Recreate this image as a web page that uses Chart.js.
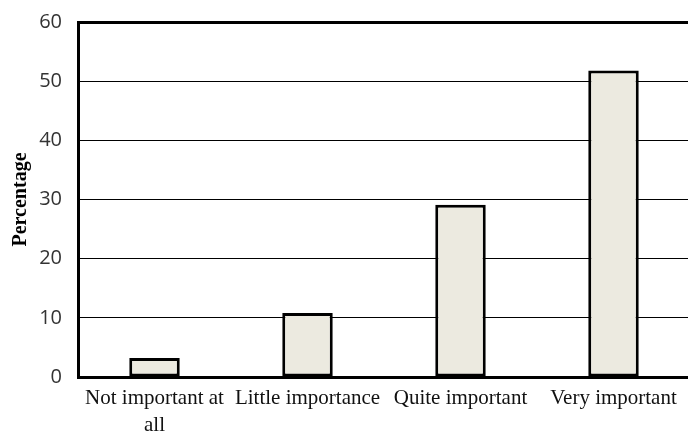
<!DOCTYPE html>
<html>
<head>
<meta charset="utf-8">
<script src="https://cdn.jsdelivr.net/npm/chart.js@4.4.0/dist/chart.umd.min.js"></script>
<style>
html,body{margin:0;padding:0;background:#fff;overflow:hidden;width:688px;height:432px;}
#wrap{position:relative;width:690px;height:438px;margin-top:-6px;}
</style>
</head>
<body>
<div id="wrap"><canvas id="c"></canvas></div>
<script>
const categories = [['Not important at', 'all'], 'Little importance', 'Quite important', 'Very important'];
const percentages = [3.2, 10.8, 29.1, 51.8];
const yTicks = [0, 10, 20, 30, 40, 50, 60];

new Chart(document.getElementById('c'), {
  type: 'bar',
  data: {
    labels: categories,
    datasets: [{
      data: percentages,
      backgroundColor: '#ECEAE0',
      borderColor: '#000',
      borderWidth: 3,
      borderSkipped: false,
      categoryPercentage: 1,
      barPercentage: 0.33
    }]
  },
  options: {
    responsive: true,
    maintainAspectRatio: false,
    animation: false,
    events: [],
    layout: { padding: { top: 16, left: 0, right: 0, bottom: 0 } },
    plugins: { legend: { display: false }, tooltip: { enabled: false } },
    scales: {
      x: {
        grid: { display: false, drawTicks: false },
        border: { display: true, color: '#000', width: 3 },
        ticks: {
          color: '#111',
          padding: 8,
          maxRotation: 0,
          autoSkip: false,
          font: { family: '"Liberation Serif", "Times New Roman", serif', size: 21, lineHeight: 1.3 }
        },
        afterFit: (s) => { s.height = 55; }
      },
      y: {
        min: 0, max: 60,
        afterBuildTicks: (s) => { s.ticks = yTicks.map(v => ({ value: v })); },
        grid: {
          color: '#000',
          lineWidth: (ctx) => (ctx.tick && ctx.tick.value === 60 ? 3 : 1),
          drawTicks: false
        },
        border: { display: true, color: '#000', width: 3 },
        ticks: {
          color: '#333',
          padding: 16,
          font: { family: '"Open Sans", "DejaVu Sans", sans-serif', size: 20 }
        },
        title: {
          display: true,
          text: 'Percentage',
          color: '#000',
          padding: { top: 9, bottom: 0 },
          font: { family: '"Liberation Serif", "Times New Roman", serif', size: 20, weight: 'bold' }
        },
        afterFit: (s) => { s.width = 78; }
      }
    }
  }
});
</script>
</body>
</html>
